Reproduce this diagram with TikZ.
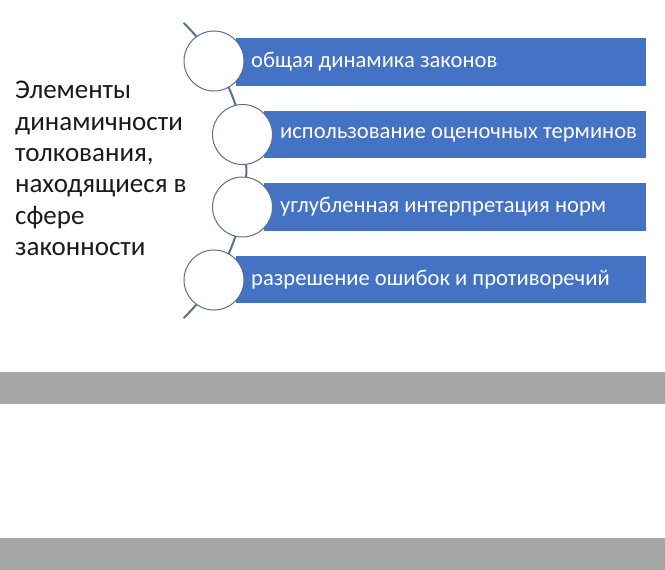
\documentclass[tikz,border=0pt]{standalone}
\usepackage{fontspec}
\setmainfont{Carlito}
\definecolor{barblue}{HTML}{4472C4}
\definecolor{arcline}{HTML}{5A6E8C}
\definecolor{graybar}{HTML}{A6A6A6}
\definecolor{txt}{HTML}{1A1A1A}
\begin{document}
\begin{tikzpicture}[x=1pt,y=-1pt,
  bar/.style={fill=barblue,draw=none},
  bubble/.style={circle,draw=arcline,line width=1pt,fill=white,minimum size=60pt,inner sep=0pt},
  bartext/.style={anchor=west,text=white,font=\fontsize{22.6}{27}\selectfont,inner sep=0pt},
  band/.style={fill=graybar,draw=none}]
\useasboundingbox (0,0) rectangle (665,570);
% gray bands
\path[band] (0,372) rectangle (665,404);
\path[band] (0,538) rectangle (665,570);
% blue bars
\path[bar] (236,38) rectangle (646,86);
\path[bar] (264,111) rectangle (646,158);
\path[bar] (264,183) rectangle (646,231);
\path[bar] (236,256) rectangle (646,303);
% arc
\coordinate (ac) at (41.3,170.5);
\draw[arcline,line width=2pt] ([shift={(46:205)}]ac) arc[start angle=46,end angle=-46,radius=205];
% circles
\node[bubble] (c1) at (214,61) {};
\node[bubble] (c2) at (242.5,134.5) {};
\node[bubble] (c3) at (242.5,207) {};
\node[bubble] (c4) at (214,280) {};
% bar texts
\node[bartext] (t1) at (251,62) {общая динамика законов};
\node[bartext] (t2) at (280,134.5) {использование оценочных терминов};
\node[bartext] (t3) at (280,207) {углубленная интерпретация норм};
\node[bartext] (t4) at (251,279.5) {разрешение ошибок и противоречий};
% left text
\node[anchor=north west,align=left,inner sep=0pt,text=txt,font=\fontsize{27}{31.4}\selectfont] (lt) at (15,81)
 {Элементы\\динамичности\\толкования,\\находящиеся в\\сфере\\законности};
\end{tikzpicture}
\end{document}
